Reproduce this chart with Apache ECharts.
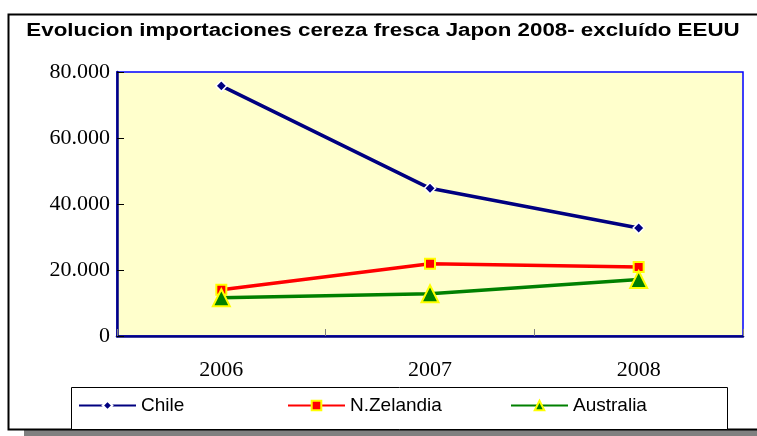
<!DOCTYPE html>
<html>
<head>
<meta charset="utf-8">
<script src="https://cdn.jsdelivr.net/npm/echarts@6/dist/echarts.min.js"></script>
<style>html,body{margin:0;padding:0;background:#fff}#c{width:757px;height:436px}</style>
</head>
<body>
<div id="c"></div>
<script>
var categories = ['2006', '2007', '2008'];
var chile = [75800, 44750, 32700];
var nzelandia = [14000, 21900, 20900];
var australia = [11600, 12800, 17100];
var titleText = 'Evolucion importaciones cereza fresca Japon 2008- excluído EEUU';

var chart = echarts.init(document.getElementById('c'), null, {renderer: 'canvas'});

function fmt(v) {
  if (v === 0) return '0';
  return String(v).replace(/\B(?=(\d{3})+(?!\d))/g, '.');
}

var legendText = {fontFamily: 'Liberation Sans, Arial, sans-serif', fontSize: 19, color: '#000'};
function mkLegend(name, left) {
  return {
    data: [name], left: left, top: 396, itemWidth: 57, itemHeight: 12, itemGap: 5,
    padding: 0, textStyle: legendText, selectedMode: false
  };
}

chart.setOption({
  animation: false,
  backgroundColor: '#fff',
  graphic: [
    {type: 'rect', shape: {x: 24, y: 430, width: 740, height: 10}, style: {fill: '#808080'}, z: -2},
    {type: 'rect', shape: {x: 8.5, y: 14.5, width: 760, height: 415}, style: {fill: '#fff', stroke: '#000', lineWidth: 2}, z: -1},
    {type: 'rect', shape: {x: 71.5, y: 387.5, width: 656, height: 42}, style: {fill: '#fff', stroke: '#000', lineWidth: 1}, z: 0},
    {type: 'text', x: 383, y: 31, scaleX: 1.24, z: 5,
      style: {text: titleText, align: 'center', verticalAlign: 'middle', fill: '#000',
        font: 'bold 18px "Liberation Sans", Arial, sans-serif'}}
  ],
  legend: [mkLegend('Chile', 78), mkLegend('N.Zelandia', 287), mkLegend('Australia', 510)],
  grid: {left: 117, right: 14, top: 72, bottom: 100, show: true, backgroundColor: '#FFFFCC', borderColor: '#0000FF', borderWidth: 1.5},
  xAxis: {
    type: 'category', data: categories, boundaryGap: true,
    axisLine: {lineStyle: {color: '#000080', width: 2.5}},
    axisTick: {show: true, inside: true, length: 7, lineStyle: {color: '#808080', width: 1}},
    axisLabel: {margin: 23, fontFamily: 'Liberation Serif, Times New Roman, serif', fontSize: 22, color: '#000'},
    splitLine: {show: false}
  },
  yAxis: {
    type: 'value', min: 0, max: 80000, interval: 20000,
    axisLine: {show: true, lineStyle: {color: '#000080', width: 2.5}},
    axisTick: {show: true, inside: true, length: 7, lineStyle: {color: '#000', width: 1}},
    axisLabel: {margin: 7, fontFamily: 'Liberation Serif, Times New Roman, serif', fontSize: 22, color: '#000',
      formatter: function (v) { return fmt(v); }},
    splitLine: {show: false}
  },
  series: [
    {name: 'Chile', type: 'line', data: chile, symbol: 'diamond', symbolSize: 11,
      lineStyle: {color: '#000080', width: 3.5}, itemStyle: {color: '#000080', borderColor: '#fff', borderWidth: 1.5}},
    {name: 'N.Zelandia', type: 'line', data: nzelandia, symbol: 'rect', symbolSize: 10,
      lineStyle: {color: '#FF0000', width: 3.5}, itemStyle: {color: '#FF0000', borderColor: '#FFFF00', borderWidth: 2}},
    {name: 'Australia', type: 'line', data: australia, symbol: 'triangle', symbolSize: 17,
      lineStyle: {color: '#008000', width: 3.5}, itemStyle: {color: '#008000', borderColor: '#FFFF00', borderWidth: 2}}
  ]
});
</script>
</body>
</html>
